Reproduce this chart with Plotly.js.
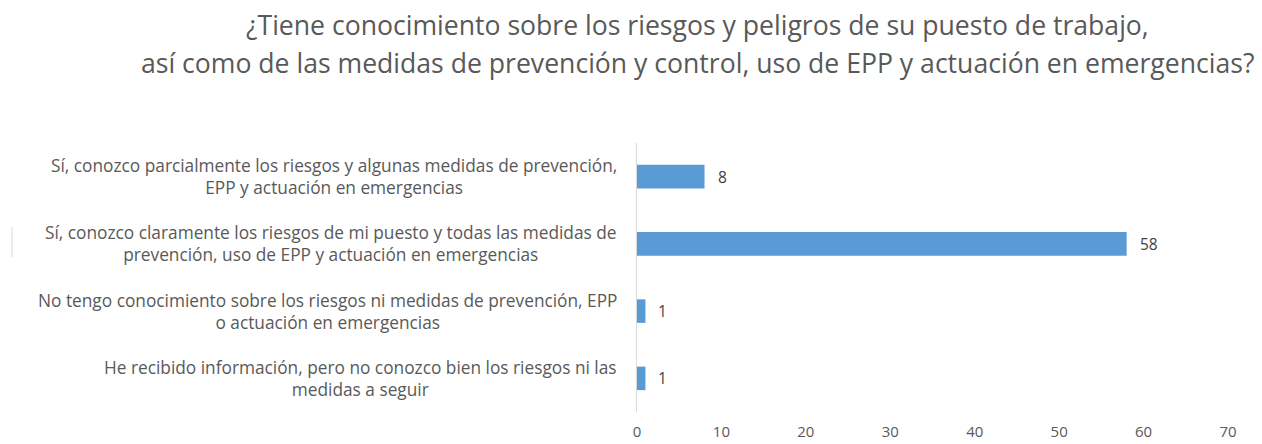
<!DOCTYPE html>
<html>
<head>
<meta charset="utf-8">
<script src="https://cdn.plot.ly/plotly-3.0.1.min.js"></script>
<style>
  html, body { margin: 0; padding: 0; background: #fff; }
  #chart { width: 1262px; height: 444px; }
</style>
</head>
<body>
<div id="chart"></div>
<script>
// Chart data (top to bottom, as in the picture)
const categories = [
  "Sí, conozco parcialmente los riesgos y algunas medidas de prevención,<br>EPP y actuación en emergencias",
  "Sí, conozco claramente los riesgos de mi puesto y todas las medidas de<br>prevención, uso de EPP y actuación en emergencias",
  "No tengo conocimiento sobre los riesgos ni medidas de prevención, EPP<br>o actuación en emergencias",
  "He recibido información, pero no conozco bien los riesgos ni las<br>medidas a seguir",
];
const counts = [8, 58, 1, 1];
const xTicks = [0, 10, 20, 30, 40, 50, 60, 70];
const titleLines = [
  "¿Tiene conocimiento sobre los riesgos y peligros de su puesto de trabajo,",
  "así como de las medidas de prevención y control, uso de EPP y actuación en emergencias?",
];

const textGray = "#595959";
const fontName = "Open Sans, Liberation Sans, sans-serif";

// Bars
const barTrace = {
  type: "bar",
  orientation: "h",
  x: counts,
  y: categories,
  width: 0.35,
  marker: { color: "#5B9BD5" },
  hoverinfo: "x+y",
};

// Category labels drawn as centred annotations (Excel style wrapped labels)
const labelAnnotations = categories.map((cat) => ({
  xref: "paper",
  yref: "y",
  x: -0.03,
  y: cat,
  xanchor: "right",
  yanchor: "middle",
  align: "center",
  text: cat,
  showarrow: false,
  font: { family: fontName, size: 17.3, color: textGray },
}));

// Value labels next to bar ends
const valueAnnotations = counts.map((v, i) => ({
  xref: "x",
  yref: "y",
  x: v,
  y: categories[i],
  xanchor: "left",
  yanchor: "middle",
  xshift: 11,
  text: String(v),
  showarrow: false,
  font: { family: fontName, size: 15.5, color: "#404040" },
}));

// Title, one annotation per line so the line spacing matches
const titleY = [1.4387, 1.2974];
const titleAnnotations = titleLines.map((line, i) => ({
  xref: "paper",
  yref: "paper",
  x: 0.103,
  y: titleY[i],
  xanchor: "center",
  yanchor: "middle",
  text: line,
  showarrow: false,
  font: { family: fontName, size: 26.6, color: textGray },
}));

const layout = {
  width: 1262,
  height: 444,
  margin: { l: 637, r: 34, t: 143, b: 32 },
  paper_bgcolor: "#fff",
  plot_bgcolor: "#fff",
  showlegend: false,
  xaxis: {
    range: [0, 70],
    tickvals: xTicks,
    ticktext: xTicks.map(String),
    showgrid: false,
    zeroline: false,
    showline: false,
    ticks: "",
    ticklabelstandoff: 9,
    tickfont: { family: fontName, size: 15, color: textGray },
    fixedrange: true,
  },
  yaxis: {
    autorange: "reversed",
    showticklabels: false,
    showgrid: false,
    zeroline: false,
    showline: true,
    linecolor: "#d9d9d9",
    linewidth: 1,
    ticks: "",
    fixedrange: true,
  },
  annotations: [...titleAnnotations, ...labelAnnotations, ...valueAnnotations],
  shapes: [
    {
      type: "line",
      xref: "paper",
      yref: "paper",
      x0: -1.0575,
      x1: -1.0575,
      y0: 0.576,
      y1: 0.688,
      line: { color: "#d9d9d9", width: 1 },
    },
  ],
};

Plotly.newPlot("chart", [barTrace], layout, { displayModeBar: false, staticPlot: true });
</script>
</body>
</html>
